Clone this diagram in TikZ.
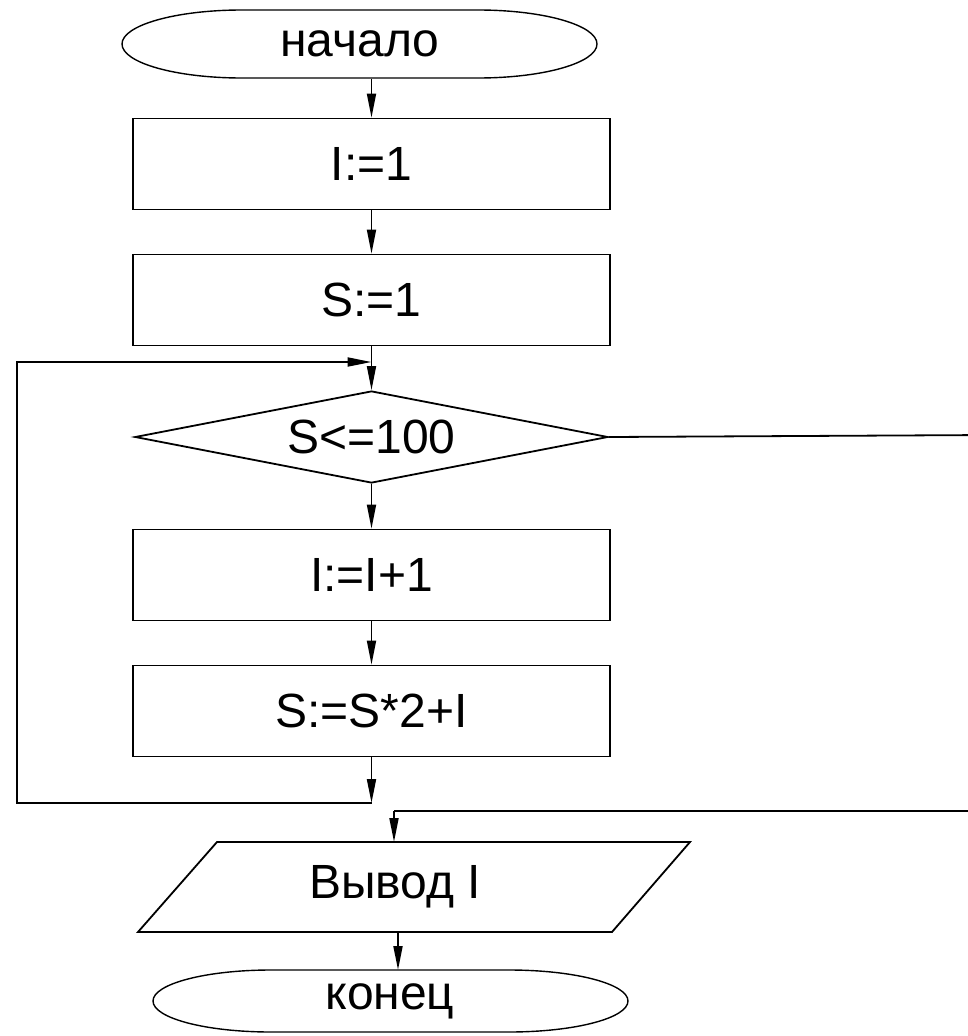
\documentclass[tikz,border=0pt]{standalone}
\usepackage{fontspec}
\setmainfont{Liberation Sans}
\usetikzlibrary{arrows.meta,shapes.geometric}
\begin{document}
\begin{tikzpicture}[x=1pt,y=-1pt,
  line width=1.8pt,
  txt/.style={font=\fontsize{48}{56}\selectfont, inner sep=0pt},
  procbox/.style={txt, draw, rectangle, minimum width=477pt, minimum height=91pt},
  decbox/.style={txt, draw, diamond, aspect=5.14, minimum width=473pt, minimum height=92pt},
  term/.style={line width=1.4pt},
  arr/.style={-{Triangle[length=24pt,width=9pt]}},
  conn/.style={line width=1.8pt}]
\useasboundingbox (0,0) rectangle (968,1036);
\clip (0,0) rectangle (968,1036);
\fill[white] (0,0) rectangle (968,1036);

% start terminal
\node[txt, minimum width=475pt, minimum height=68pt] (start) at (360,44) {начало};
\draw[term] (242,10) -- (478,10) arc[start angle=90,end angle=-90,x radius=119,y radius=-34]
  -- (242,78) arc[start angle=270,end angle=90,x radius=120,y radius=-34] -- cycle;

\node[procbox] (b1) at (371.5,164) {I:=1};
\node[procbox] (b2) at (371.5,300) {S:=1};
\node[decbox] (dia) at (371.5,437) {S<=100};
\node[procbox] (b3) at (371.5,575) {I:=I+1};
\node[procbox] (b4) at (371.5,711) {S:=S*2+I};

% output parallelogram
\node[txt, minimum width=474pt, minimum height=90pt] (out) at (395,887) {Вывод I};
\draw (217,842) -- (690,842) -- (612,932) -- (138,932) -- cycle;
\coordinate (outtop) at (394,842);
\coordinate (outbot) at (398,932);

% end terminal
\node[txt, minimum width=475pt, minimum height=62pt] (end) at (390,1001) {конец};
\draw[term] (271,970) -- (509,970) arc[start angle=90,end angle=-90,x radius=119,y radius=-31]
  -- (271,1032) arc[start angle=270,end angle=90,x radius=118,y radius=-31] -- cycle;
\coordinate (endtop) at (398,970);

% junctions
\coordinate (j1) at (371.5,362);
\coordinate (j2) at (371.5,803);
\coordinate (l1) at (17,803);
\coordinate (l2) at (17,362);
\coordinate (r1) at (990,435);
\coordinate (r2) at (394,811);

\draw[conn,arr] (start.south -| b1.north) -- (b1.north);
\draw[conn,arr] (b1.south) -- (b2.north);
\draw[conn,arr] (b2.south) -- (dia.north);
\draw[conn,arr] (dia.south) -- (b3.north);
\draw[conn,arr] (b3.south) -- (b4.north);
\draw[conn,arr] (b4.south) -- (j2);
\draw[conn,arr] (j2) -- (l1) -- (l2) -- (j1);
\draw[conn] (dia.east) -- (r1) |- (r2);
\draw[conn,arr] (r2) -- (outtop);
\draw[conn,arr] (outbot) -- (endtop);
\end{tikzpicture}
\end{document}
